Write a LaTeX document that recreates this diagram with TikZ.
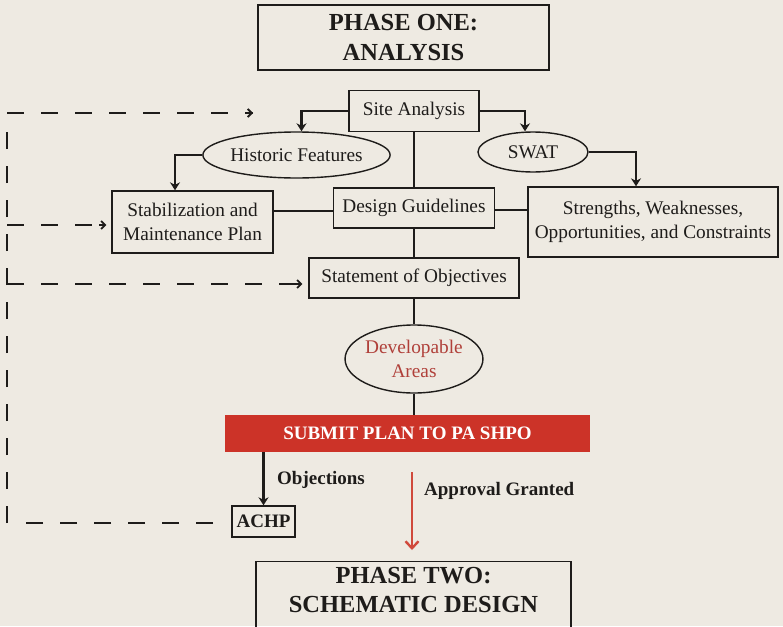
\documentclass[tikz,border=0pt]{standalone}
\usepackage{fontspec}
\setmainfont{Liberation Serif}
\usetikzlibrary{arrows.meta,shapes.geometric}
\definecolor{bg}{HTML}{EEEAE2}
\definecolor{ink}{HTML}{1E1C1A}
\definecolor{redbar}{HTML}{CC3328}
\definecolor{redtxt}{HTML}{B0403A}
\definecolor{redarr}{HTML}{D04A3C}
\tikzset{
  every node/.style={text=ink, font=\fontsize{19.3}{24}\selectfont, align=center, inner sep=0pt},
  box/.style={draw=ink, line width=1.4pt, rectangle},
  oval/.style={draw=ink, line width=1.4pt, ellipse},
  title/.style={box, font=\bfseries\fontsize{24.5}{30}\selectfont},
  conn/.style={draw=ink, line width=1.4pt},
  arr/.style={draw=ink, line width=2.7pt, -{Stealth[length=8pt,width=10pt]}},
  dsh/.style={draw=ink, line width=2.4pt, dash pattern=on 17pt off 17pt},
  dtip/.style={draw=ink, line width=1.8pt, -{Straight Barb[length=4pt,width=8pt,line width=1.8pt]}},
  lbl/.style={font=\bfseries\fontsize{19}{24}\selectfont}
}
\begin{document}
\begin{tikzpicture}[x=1pt,y=-1pt]
\useasboundingbox (0,0) rectangle (783,626);
\fill[bg] (0,0) rectangle (783,626);
\clip (0,0) rectangle (783,626);

% nodes
\node[title, minimum width=291pt, minimum height=65pt] (p1) at (403.5,37.5) {PHASE ONE:\\ANALYSIS};
\node[box, minimum width=130pt, minimum height=41pt] (site) at (414,111) {Site Analysis};
\node[oval, minimum width=147pt, minimum height=46pt] (hist) at (296.5,155) {Historic Features};
\node[oval, minimum width=110pt, minimum height=40pt] (swat) at (533,152) {SWAT};
\node[box, minimum width=250pt, minimum height=70pt] (swoc) at (653,222) {Strengths, Weaknesses,\\Opportunities, and Constraints};
\node[box, minimum width=161pt, minimum height=40pt] (dg) at (414,208) {Design Guidelines};
\node[box, minimum width=161pt, minimum height=62pt] (stab) at (192.5,222) {Stabilization and\\Maintenance Plan};
\node[box, minimum width=210pt, minimum height=40pt] (stmt) at (414,278) {Statement of Objectives};
\node[oval, minimum width=130pt, minimum height=68pt, text=redtxt] (dev) at (414,359) {Developable\\Areas};
\node[rectangle, fill=redbar, minimum width=365pt, minimum height=37pt, text=white,
      font=\bfseries\fontsize{19}{22}\selectfont] (submit) at (407.5,433.5) {SUBMIT PLAN TO PA SHPO};
\node[box, minimum width=63pt, minimum height=31pt, font=\bfseries\fontsize{19}{24}\selectfont] (achp) at (263.5,521.5) {ACHP};
\node[title, minimum width=315pt, minimum height=84pt, anchor=north] (p2) at (413.5,561) {};
\node[font=\bfseries\fontsize{24.5}{29}\selectfont] (p2t) at (413.5,589.5) {PHASE TWO:\\SCHEMATIC DESIGN};

\node[lbl, anchor=west] (obj) at (277,480) {Objections};
\node[lbl, anchor=west] (appr) at (424,491) {Approval Granted};

% solid connectors
\draw[arr] (site.west) -| ([xshift=5pt]hist.north);
\draw[arr] (site.east) -| ([xshift=-8pt]swat.north);
\draw[arr] (hist.west) -| ([xshift=-17.5pt]stab.north);
\draw[arr] (swat.east) -| ([xshift=-17pt]swoc.north);
\draw[conn] (site.south) -- (dg.north);
\draw[conn] ([yshift=-3pt]dg.west) -- ([yshift=-3pt]dg.west -| stab.east);
\draw[conn] ([yshift=-2pt]dg.east) -- ([yshift=-2pt]dg.east -| swoc.west);
\draw[conn] (dg.south) -- (stmt.north);
\draw[conn] (stmt.south) -- (dev.north);
\draw[conn] (dev.south) -- (submit.north -| dev.south);
\draw[arr] (achp.north |- submit.south) -- (achp.north);

\coordinate (a1) at (412,472);
\coordinate (a2) at (412,550);
\draw[draw=redarr, line width=2.2pt, -{Straight Barb[length=7pt,width=13pt,line width=2.4pt]}] (a1) -- (a2);

% dashed feedback
\coordinate (topend) at (253,113);
\coordinate (vtop) at (7,132);
\coordinate (vbot) at (7,523);
\coordinate (achpdash) at (213,523);
\draw[dsh] (achpdash) -- (25,523);
\draw[dsh] (vbot) -- (vtop);
\draw[dsh] (7,113) -- (topend);
\draw[dtip] (245,113) -- (topend);
\draw[dsh] (7,225) -- ([xshift=-6pt]stab.west |- 0,225);
\draw[dtip] (99,225) -- ([xshift=-5pt]stab.west |- 0,225);
\draw[dsh] (7,284) -- ([xshift=-6pt]stmt.west |- 0,284);
\draw[dtip] (288,284) -- ([xshift=-6pt]stmt.west |- 0,284);
\end{tikzpicture}
\end{document}
